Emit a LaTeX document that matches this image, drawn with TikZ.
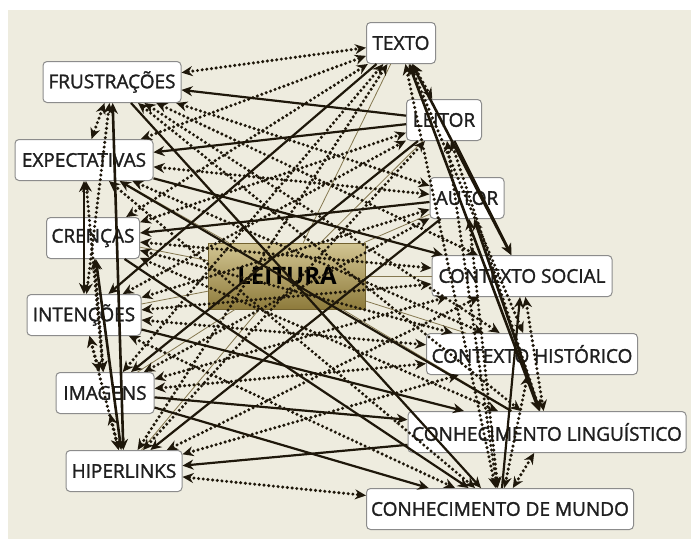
\documentclass[tikz,border=0pt]{standalone}
\usepackage{fontspec}
\setmainfont{Open Sans}
\newfontfamily\conceptfont[FakeBold=1.5]{Open Sans}
\usetikzlibrary{arrows.meta}
\definecolor{ink}{HTML}{1E170A}
\definecolor{bgbeige}{HTML}{EEECDF}
\definecolor{thinol}{HTML}{857850}
\definecolor{boxline}{HTML}{8C8C8C}
\definecolor{goldtop}{HTML}{D2C592}
\definecolor{goldbot}{HTML}{8E7B3C}
\tikzset{
  conc/.style={draw=boxline, line width=1pt, fill=white, rounded corners=4pt,
    minimum height=41pt, inner sep=0pt, text=black!88, font=\conceptfont\fontsize{19}{21}\selectfont},
  core/.style={draw=goldbot!80!black, line width=0.8pt, top color=goldtop, bottom color=goldbot,
    minimum width=157pt, minimum height=66pt, inner sep=0pt, font=\bfseries\fontsize{24}{26}\selectfont, text=black},
  dotl/.style={ink, line width=3.4pt, dash pattern=on 0pt off 4.7pt, line cap=round,
    {Stealth[length=11pt,width=10pt]}-{Stealth[length=11pt,width=10pt]}},
  soll/.style={ink, line width=2.2pt, -{Stealth[length=11pt,width=10pt]}},
  solb/.style={ink, line width=2.6pt, {Stealth[length=11pt,width=10pt]}-{Stealth[length=11pt,width=10pt]}},
  thinl/.style={thinol, line width=0.8pt}
}
\begin{document}
\begin{tikzpicture}[x=1pt,y=-1pt]
\useasboundingbox (0,0) rectangle (691,539);
\fill[white] (0,0) rectangle (691,539);
\fill[bgbeige] (8,10) rectangle (691,539);

% central node
\node[core] (lt) at (287,276) {LEITURA};

% concept nodes
\node[conc, minimum width=69pt]  (tex) at (401,43)  {TEXTO};
\node[conc, minimum width=138pt] (fru) at (112,82)  {FRUSTRAÇÕES};
\node[conc, minimum width=75pt]  (lei) at (444,120) {LEITOR};
\node[conc, minimum width=138pt] (exp) at (84,160)  {EXPECTATIVAS};
\node[conc, minimum width=74pt]  (aut) at (467,198) {AUTOR};
\node[conc, minimum width=93pt]  (cre) at (93,238)  {CRENÇAS};
\node[conc, minimum width=180pt] (cso) at (522,276) {CONTEXTO SOCIAL};
\node[conc, minimum width=114pt] (int) at (84,315)  {INTENÇÕES};
\node[conc, minimum width=211pt] (chi) at (532,354) {CONTEXTO HISTÓRICO};
\node[conc, minimum width=98pt]  (ima) at (105,393) {IMAGENS};
\node[conc, minimum width=278pt] (cli) at (547,432) {CONHECIMENTO LINGUÍSTICO};
\node[conc, minimum width=116pt] (hip) at (124,471) {HIPERLINKS};
\node[conc, minimum width=267pt] (cmu) at (500,509) {CONHECIMENTO DE MUNDO};

% thin links from the centre
\foreach \n in {tex,fru,lei,exp,aut,cre,cso,int,chi,ima,cli,hip,cmu}
  \draw[thinl] (lt) -- (\n);

% dotted two-way links
\foreach \a/\b in {fru/tex,fru/aut,fru/cso,fru/chi,fru/cli,
  exp/tex,exp/aut,exp/chi,exp/cmu,
  cre/tex,cre/lei,cre/cso,cre/chi,cre/cli,
  int/lei,int/aut,int/cso,int/chi,int/cmu,
  ima/tex,ima/aut,ima/cso,ima/chi,
  hip/tex,hip/lei,hip/cso,hip/chi,hip/cmu,
  fru/exp,fru/int,exp/ima,cre/ima,int/ima,int/hip,ima/hip,
  tex/lei,tex/chi,tex/cmu,lei/cli,lei/cmu,aut/cmu,chi/cmu,cli/cmu,cso/cli}
  \draw[dotl] (\a) -- (\b);

% solid one-way links
\foreach \a/\b in {lei/fru,fru/cmu,lei/exp,exp/cso,cli/exp,
  aut/cre,cre/cmu,tex/int,int/cli,lei/ima,ima/cli,ima/cmu,
  aut/hip,cli/hip,lei/cso,cmu/cso}
  \draw[soll] (\a) -- (\b);

% solid two-way links
\foreach \a/\b in {fru/hip,exp/int,cre/hip,tex/cso,tex/cli,aut/cli}
  \draw[solb] (\a) -- (\b);
\end{tikzpicture}
\end{document}
